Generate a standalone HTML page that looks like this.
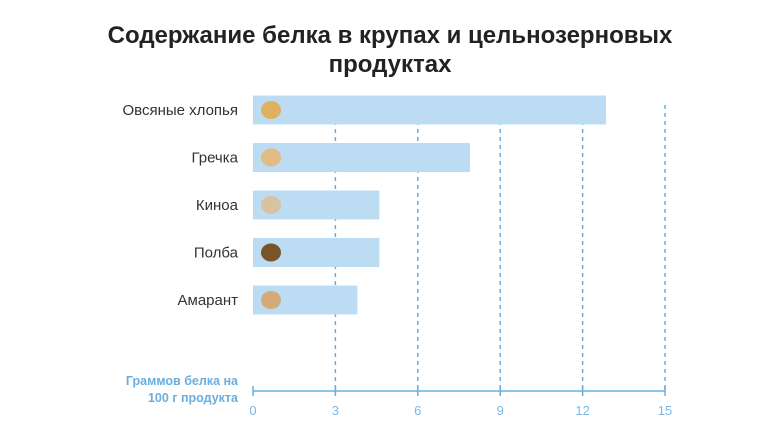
<!DOCTYPE html>
<html><head><meta charset="utf-8"><style>
body{margin:0;background:#fff;width:780px;height:439px;overflow:hidden;font-family:"Liberation Sans",sans-serif}
</style></head><body>
<svg width="780" height="439" xmlns="http://www.w3.org/2000/svg">
<text x="390" y="43" text-anchor="middle" font-size="24" font-weight="bold" fill="#222">Содержание белка в крупах и цельнозерновых</text>
<text x="390" y="72" text-anchor="middle" font-size="24" font-weight="bold" fill="#222">продуктах</text>
<g id="grid"></g><g id="bars"></g><g id="axis"></g>
<text x="238" y="385" text-anchor="end" font-size="12.5" font-weight="bold" fill="#6aaee0">Граммов белка на</text>
<text x="238" y="402" text-anchor="end" font-size="12.5" font-weight="bold" fill="#6aaee0">100 г продукта</text>
</svg>
<script>
const categories=["Овсяные хлопья","Гречка","Киноа","Полба","Амарант"];
const values=[12.85,7.9,4.6,4.6,3.8];
const ticks=[0,3,6,9,12,15];
const grainColors=["#e0b060","#e2bc85","#d8c2a0","#7a5428","#d4aa78"];
const NS="http://www.w3.org/2000/svg";
const x=v=>253+v*(412/15);
const y=i=>110+i*47.5;
function mk(t,a,p){const e=document.createElementNS(NS,t);for(const k in a)e.setAttribute(k,a[k]);p.appendChild(e);return e;}
const g=document.getElementById('grid'),b=document.getElementById('bars'),ax=document.getElementById('axis');
ticks.forEach(t=>{
 if(t>0){const l=mk('line',{x1:x(t),x2:x(t),y1:105,y2:391,stroke:'#6aaee0','stroke-width':1.5,'stroke-dasharray':'4,4'},g);
 
 }
 const tk=mk('line',{x1:x(t),x2:x(t),y1:386,y2:396,stroke:'#6aaee0','stroke-width':1.5},ax);
 
 
 const tl=mk('text',{x:x(t),y:415,'text-anchor':'middle','font-size':13,fill:'#7bb8e6'},ax);tl.textContent=t;
 
 
});
const al=mk('line',{x1:x(0),x2:x(15),y1:391,y2:391,stroke:'#6aaee0','stroke-width':1.5},ax);


categories.forEach((c,i)=>{
 const r=mk('rect',{x:x(0),y:y(i)-14.5,width:x(values[i])-x(0),height:29,fill:'#bcdcf4'},b);
 
 
 const gr=mk('ellipse',{cx:x(0)+18,cy:y(i),rx:10,ry:9,fill:grainColors[i]},b);
 
 
 const t=mk('text',{x:238,y:y(i)+5,'text-anchor':'end','font-size':15,fill:'#333'},b);t.textContent=c;
 
 
});
</script>
</body></html>
